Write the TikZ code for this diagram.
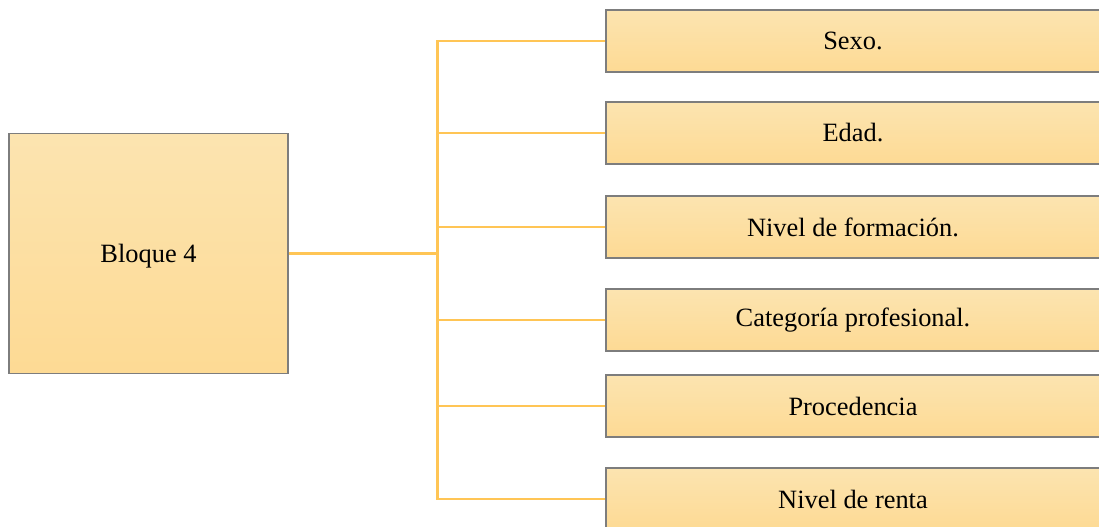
\documentclass[tikz,border=0pt]{standalone}
\usepackage{fontspec}
\setmainfont{Liberation Serif}
\definecolor{boxtop}{RGB}{252,228,176}
\definecolor{boxbot}{RGB}{253,218,148}
\definecolor{boxline}{RGB}{125,125,125}
\definecolor{conncol}{RGB}{255,197,85}
\begin{document}
\begin{tikzpicture}[x=0.75pt,y=-0.75pt,
  pbox/.style={draw=boxline,line width=1.1pt,top color=boxtop,bottom color=boxbot,
    inner sep=0pt,font=\fontsize{19.8}{24}\selectfont},
  conn/.style={draw=conncol,line width=1.6pt},
  trunk/.style={draw=conncol,line width=2.25pt}]
\useasboundingbox (0,0) rectangle (1099,526);
\clip (0,0) rectangle (1099,526);
\node[pbox,minimum width=279*0.75pt,minimum height=240*0.75pt] (b) at (148.5,253.5) {\raisebox{-6.8pt}[0pt][0pt]{Bloque 4}};
\foreach \n/\y/\t in {r1/41/{Sexo.},r2/133/{Edad.},r3/227/{Nivel de formación.},r4/320/{Categoría profesional.},r5/406/{Procedencia},r6/499/{Nivel de renta}}{
  \node[pbox,minimum width=494*0.75pt,minimum height=62*0.75pt] (\n) at (853,\y) {\t};
}
\coordinate (j) at (437.5,253.5);
\coordinate (t1) at (j |- r1.west);
\coordinate (t6) at (j |- r6.west);
\draw[trunk] (b.east) -- (j);
\draw[trunk] (t1) -- (t6);
\foreach \n in {r1,r2,r3,r4,r5,r6}{
  \draw[conn] (j) |- (\n.west);
}
\end{tikzpicture}
\end{document}
